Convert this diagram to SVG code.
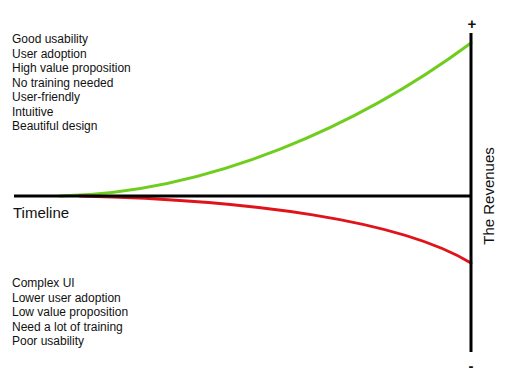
<svg xmlns="http://www.w3.org/2000/svg" width="509" height="388" viewBox="0 0 509 388">
<style>
.t{font-family:"Liberation Sans",Arial,sans-serif;font-size:12px;fill:#111}
.big{font-family:"Liberation Sans",Arial,sans-serif;font-size:15px;fill:#111}
.axis{stroke:#000;stroke-width:3;fill:none}
.curve{fill:none;stroke-width:3;stroke-linecap:round}
</style>
<rect width="509" height="388" fill="#fff"/>
<g id="connectors">
<path class="curve" stroke="#6fcd1e" d="M60,196 C210,193 360,125 471,43"/>
<path class="curve" stroke="#e0131b" d="M80,196 C250,200 400,220 471,263"/>
<line class="axis" x1="14" y1="196" x2="471" y2="196"/>
<line class="axis" x1="471" y1="33" x2="471" y2="352"/>
</g>
<g id="positive">
<text class="t" x="12" y="43">Good usability</text>
<text class="t" x="12" y="57.5">User adoption</text>
<text class="t" x="12" y="72">High value proposition</text>
<text class="t" x="12" y="86.5">No training needed</text>
<text class="t" x="12" y="101">User-friendly</text>
<text class="t" x="12" y="115.5">Intuitive</text>
<text class="t" x="12" y="130">Beautiful design</text>
</g>
<g id="negative">
<text class="t" x="12" y="287">Complex UI</text>
<text class="t" x="12" y="301.5">Lower user adoption</text>
<text class="t" x="12" y="316">Low value proposition</text>
<text class="t" x="12" y="330.5">Need a lot of training</text>
<text class="t" x="12" y="345">Poor usability</text>
</g>
<g id="timeline">
<text class="big" x="13" y="218">Timeline</text>
</g>
<g id="revenues">
<text class="big" x="0" y="0" text-anchor="middle" transform="translate(494,196) rotate(-90)">The Revenues</text>
<text class="big" x="472" y="29" text-anchor="middle" font-weight="bold" font-size="19">+</text>
<text class="big" x="471" y="371" text-anchor="middle" font-weight="bold" font-size="19">-</text>
</g>
</svg>
